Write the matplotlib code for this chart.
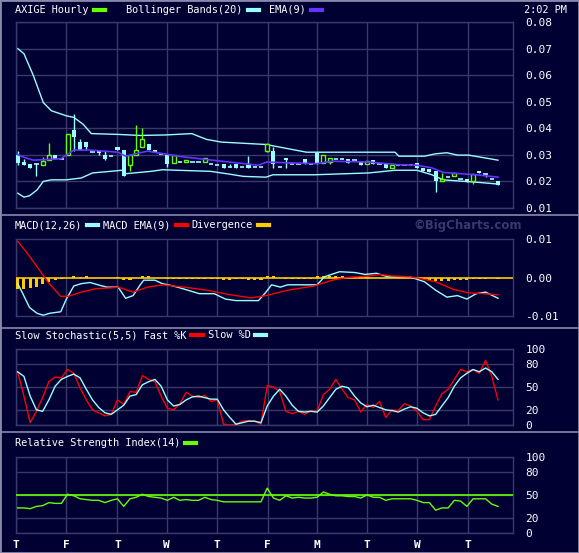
import matplotlib
matplotlib.use("Agg")
import matplotlib.pyplot as plt
from matplotlib.lines import Line2D
import numpy as np

BG = "#000033"
GRID = "#3a3a6a"
CYAN = "#99ffff"
GREEN = "#66ff00"
RED = "#ff0000"
ORANGE = "#ffcc00"
PURPLE = "#6633ff"

# ---- price data (hourly bars) ----
opens = [.030,.0272,.0266,.0266,.0263,.0281,.030,.0286,
         .030,.0392,.0349,.0349,.031,.0314,.030,.0295,
         .0330,.0319,.0262,.030,.0329,.0342,.032,.0305,
         .030,.0268,.0272,.0272,.0272,.0272,.0272,.0265,
         .026,.0267,.0255,.0266,.0253,.0261,.0253,.0253,
         .0314,.0313,.0255,.029,.0265,.0265,.0286,.0265,
         .0308,.027,.0272,.0283,.0283,.0286,.028,.0272,
         .0265,.0281,.0265,.0266,.0251,.0263,.0263,.0263,
         .027,.0251,.0248,.0238,.020,.0215,.0219,.021,
         .0211,.020,.0238,.0228,.021,.020]
closes = [.027,.0261,.0251,.0266,.0278,.030,.0286,.0286,
          .038,.0368,.032,.0328,.031,.0308,.0285,.0295,
          .0318,.0219,.0298,.0319,.0361,.0318,.0311,.0305,
          .0267,.030,.0272,.028,.0272,.0272,.0288,.0265,
          .026,.0251,.0255,.0251,.0253,.0251,.0253,.0253,
          .0342,.0267,.0255,.028,.0265,.0265,.0267,.0265,
          .0267,.030,.0288,.0283,.0283,.027,.028,.0261,
          .0278,.0265,.0265,.0251,.0263,.0263,.0263,.0263,
          .0251,.0238,.0235,.020,.0211,.0215,.0232,.021,
          .0198,.0229,.0232,.0228,.021,.0188]
highs = [.0314,.0285,.0266,.0268,.0291,.0343,.030,.0286,
         .038,.0455,.036,.0349,.031,.0314,.0315,.0295,
         .0330,.0319,.0298,.0413,.040,.0342,.032,.0305,
         .030,.030,.0272,.028,.0272,.0272,.0288,.0265,
         .026,.0267,.0265,.0266,.0253,.0295,.0253,.0253,
         .0345,.033,.0255,.029,.0265,.0265,.0286,.0265,
         .0312,.030,.0288,.0283,.029,.0286,.028,.0272,
         .0278,.0281,.0265,.0266,.0263,.0263,.0263,.0263,
         .027,.0251,.0248,.0238,.023,.0215,.0232,.021,
         .0211,.0229,.0238,.0228,.021,.020]
lows = [.0262,.0261,.0251,.0219,.0263,.0281,.0286,.0286,
        .030,.0315,.032,.032,.031,.030,.028,.0295,
        .0318,.0219,.024,.030,.0329,.0318,.0311,.0305,
        .0255,.0268,.0272,.0272,.0272,.0272,.0272,.0265,
        .026,.0251,.0255,.0251,.0253,.0251,.0253,.0253,
        .031,.025,.0255,.025,.0265,.0265,.0267,.0265,
        .0267,.027,.0265,.0283,.0283,.027,.028,.0261,
        .0265,.0265,.0265,.0251,.0251,.0263,.0263,.0263,
        .0251,.0238,.0235,.016,.020,.0215,.0219,.021,
        .0198,.019,.0232,.0215,.021,.0188]

boll_up_x = [0,1,2.5,4.1,5.4,7.8,9,10.5,11.8,16.1,19.6,23.8,27.9,30.3,32.7,39.8,46.3,60.5,61.1,65.2,67,68.8,70.5,72.3,77]
boll_up = [.070,.0681,.0599,.0497,.0466,.0447,.0441,.0415,.0380,.0377,.0373,.0375,.0380,.0358,.0348,.0339,.0310,.0310,.0295,.0295,.0304,.0308,.0299,.0299,.0280]
boll_lo_x = [0,1,1.9,3.1,4.1,5.4,7.8,10.2,12,14.9,16.7,17.3,21.4,23.2,25.6,30.9,33.8,36.2,39.8,40.9,47.5,56.3,60.5,64,66.4,68.2,71.7,74.1,77]
boll_lo = [.0156,.0141,.0146,.0168,.0200,.0206,.0206,.0213,.0232,.0238,.0242,.0229,.0238,.0244,.0242,.0238,.0228,.0219,.0216,.0225,.0225,.0232,.0242,.0242,.0225,.0206,.0200,.0196,.0190]
ema_x = [0,1,2.5,6.9,9,11.5,16.1,17.3,19.1,20.8,23.2,25.6,32.7,38.6,39.9,43.3,48,50.4,56.3,61.1,64,66.4,68.2,71.1,73.5,77]
ema = [.0301,.0291,.0280,.0285,.0318,.0318,.0310,.0295,.0305,.0314,.0305,.0295,.0276,.0261,.0273,.0270,.0267,.0276,.0273,.0263,.0261,.0251,.0234,.0229,.0225,.0216]

macd_x = [0,0.7,1.9,3.1,4.1,5.1,6.9,7.8,9,10.2,11.6,13.1,14.3,16.1,17.3,18.5,19.6,20.2,22,23.2,24.4,25.6,27.9,29.1,31.5,33.3,35,38.6,39.8,40.7,42.1,43.3,48,49.2,51.6,54,55.7,57.5,59.3,62.8,65.2,67,68.8,70.5,72,73.5,75,77]
macd = [-.0016,-.0038,-.0078,-.0093,-.0098,-.0093,-.0089,-.0056,-.0022,-.0016,-.0013,-.002,-.0025,-.0025,-.0054,-.0047,-.002,-.0007,-.0007,-.0016,-.002,-.0025,-.0036,-.0042,-.0042,-.0056,-.006,-.006,-.0038,-.0019,-.0025,-.0019,-.0019,.0002,.0015,.0013,.0008,.0011,.0002,.0002,-.0011,-.0033,-.0051,-.0047,-.0056,-.0042,-.0038,-.0054]
sig_x = [0,1.3,3.1,4.8,6.9,8.1,10.2,12.5,14.9,16.1,18.5,20.8,23.2,26.7,30.3,33.8,37.4,39.8,43.3,47.5,50.4,52.8,56.3,58.1,59.9,62.8,64.6,67,69.9,72.3,74.7,77]
sig = [.0094,.0068,.0028,-.0011,-.0049,-.0049,-.0038,-.0029,-.0027,-.0025,-.0038,-.0025,-.0019,-.0025,-.0033,-.0044,-.0053,-.0047,-.0033,-.0022,-.0007,0,.0004,.0008,.0004,.0002,-.0003,-.0011,-.0031,-.004,-.0042,-.0045]
diverg = [-.003,-.003,-.0028,-.0025,-.0018,-.0011,-.0007,-.0003,
          0,.0003,.0002,.0003,0,-.0001,-.0002,0,
          .0001,-.0007,-.0006,-.0002,.0003,.0003,-.0001,-.0002,
          -.0003,-.0005,-.0005,-.0004,-.0004,-.0004,-.0004,-.0005,
          -.0005,-.0006,-.0006,-.0005,-.0005,-.0006,-.0006,-.0006,
          .0004,.0003,-.0002,-.0003,-.0003,-.0004,-.0004,-.0004,
          .0003,.0005,.0004,.0003,.0003,.0002,.0002,.0001,
          .0001,0,0,0,0,0,0,-.0001,
          -.0003,-.0005,-.0007,-.0008,-.0008,-.0008,-.0007,-.0006,
          -.0006,-.0005,-.0004,-.0003,-.0002,-.0005]

stoch_k = [70,38,3,18,36,57,63,62,73,68,49,33,20,16,12,14,33,27,44,43,65,60,57,38,22,20,28,43,38,36,39,31,33,1,0,1,5,6,5,1,
           52,50,44,18,15,18,14,19,18,40,47,60,47,36,33,17,27,23,31,10,20,19,28,25,18,7,7,25,41,47,60,73,70,73,68,85,64,33]
stoch_d = [70,64,38,20,18,33,51,60,64,67,62,47,33,23,16,14,20,26,38,40,53,57,60,51,33,25,27,33,37,38,36,34,34,20,10,1,3,5,5,3,
           25,38,47,38,26,18,17,18,17,25,36,47,51,49,38,29,24,26,23,20,19,17,21,24,22,16,12,14,25,36,51,62,68,73,70,75,70,60]
rsi = [33,33,32,35,36,40,39,39,51,49,45,44,43,43,40,43,45,35,45,47,51,48,47,46,43,47,43,44,43,43,47,44,43,41,41,41,41,41,41,41,
       59,46,43,49,46,47,46,46,47,54,51,49,49,48,48,46,50,47,47,43,45,45,45,45,43,40,40,30,33,33,43,42,35,45,45,45,38,35]

day_pos = [-0.35, 7.8, 16, 23.9, 32, 40.1, 48, 56, 64, 72.2]
day_labels = ["T", "F", "T", "W", "T", "F", "M", "T", "W", "T"]
XMIN, XMAX = -0.35, 79.4

FONT = "DejaVu Sans Mono"
FS = 7.4
plt.rcParams["font.family"] = FONT

fig = plt.figure(figsize=(5.79, 5.53), dpi=100, facecolor=BG)
W, H = 579, 553
renderer = fig.canvas.get_renderer()

def mkax(top, bottom):
    ax = fig.add_axes([15.5 / W, 1 - bottom / H, (513 - 15.5) / W, (bottom - top) / H])
    ax.set_facecolor(BG)
    ax.set_xlim(XMIN, XMAX)
    for s in ax.spines.values():
        s.set_color(GRID)
        s.set_linewidth(1)
    ax.set_xticks(day_pos)
    ax.xaxis.grid(True, color=GRID, lw=1)
    ax.yaxis.tick_right()
    ax.tick_params(axis="y", length=0, pad=9, labelcolor="white", labelsize=8)
    ax.tick_params(axis="x", length=0, labelbottom=False)
    ax.set_axisbelow(True)
    return ax

x = np.arange(len(opens))

# Panel 1: price
ax1 = mkax(22, 208)
ax1.set_ylim(0.01, 0.08)
ax1.set_yticks(np.arange(0.01, 0.081, 0.01))
ax1.set_yticklabels([f"{v:.2f}" for v in np.arange(0.01, 0.081, 0.01)])
ax1.yaxis.grid(True, color=GRID, lw=1)
ax1.plot(boll_up_x, boll_up, color=CYAN, lw=1)
ax1.plot(boll_lo_x, boll_lo, color=CYAN, lw=1)
for i in range(len(x)):
    o, c, h, l = opens[i], closes[i], highs[i], lows[i]
    up = c > o
    col = GREEN if up else CYAN
    ax1.vlines(x[i], l, h, color=col, lw=1, zorder=3)
    if abs(c - o) < 1e-6:
        ax1.hlines(o, x[i] - 0.35, x[i] + 0.35, color=col, lw=1.2, zorder=3)
    elif up:
        ax1.bar(x[i], c - o, bottom=o, width=0.65, facecolor=BG, edgecolor=col, lw=1, zorder=4)
    else:
        ax1.bar(x[i], o - c, bottom=c, width=0.65, color=col, lw=0, zorder=4)
ax1.plot(ema_x, ema, color=PURPLE, lw=1.2, zorder=5)

# Panel 2: MACD
ax2 = mkax(239, 316)
ax2.set_ylim(-0.01, 0.01)
ax2.set_yticks([-0.01, 0, 0.01])
ax2.set_yticklabels(["-0.01", "0.00", "0.01"])
ax2.bar(x, diverg, width=0.5, color=ORANGE, zorder=3)
ax2.axhline(0, color=ORANGE, lw=1.2, zorder=3)
ax2.plot(macd_x, macd, color=CYAN, lw=1, zorder=4)
ax2.plot(sig_x, sig, color=RED, lw=1, zorder=4)

# Panel 3: Stochastic
ax3 = mkax(349, 425)
ax3.set_ylim(0, 100)
ax3.set_yticks([0, 20, 50, 80, 100])
ax3.yaxis.grid(True, color=GRID, lw=1)
ax3.plot(x, stoch_k, color=RED, lw=1, zorder=3)
ax3.plot(x, stoch_d, color=CYAN, lw=1, zorder=4)

# Panel 4: RSI
ax4 = mkax(457, 533)
ax4.set_ylim(0, 100)
ax4.set_yticks([0, 20, 50, 80, 100])
ax4.yaxis.grid(True, color=GRID, lw=1)
ax4.axhline(50, color=GREEN, lw=1.2, zorder=3)
ax4.plot(x, rsi, color=GREEN, lw=1, zorder=4)
ax4.tick_params(axis="x", labelbottom=True, labelcolor="white", labelsize=8, pad=5)
ax4.set_xticklabels(day_labels, fontweight="bold")

# legends / headers
def legend(items, y):
    xpos = 15
    for label, col, gap in items:
        t = fig.text(xpos / W, 1 - y / H, label, color="white", fontsize=FS, va="center", ha="left")
        w = t.get_window_extent(renderer).width
        fig.add_artist(Line2D([(xpos + w + 5) / W, (xpos + w + 16) / W], [1 - y / H] * 2, color=col, lw=3))
        xpos += w + 16 + gap

legend([("AXIGE Hourly", GREEN, 22), ("Bollinger Bands(20)", CYAN, 10), ("EMA(9)", PURPLE, 0)], 10)
fig.text(545 / W, 1 - 10 / H, "2:02 PM", color="white", fontsize=FS, va="center", ha="center")
legend([("MACD(12,26)", CYAN, 5), ("MACD EMA(9)", RED, 5), ("Divergence", ORANGE, 0)], 225)
fig.text(468 / W, 1 - 225 / H, "©BigCharts.com", color="#3a3a6a", fontsize=8.5, fontweight="bold",
         va="center", ha="center", family="DejaVu Sans")
legend([("Slow Stochastic(5,5) Fast %K", RED, 5), ("Slow %D", CYAN, 0)], 335)
legend([("Relative Strength Index(14)", GREEN, 0)], 443)

# panel separators / frame
for yy in [215, 328, 432]:
    fig.add_artist(Line2D([0, 1], [1 - yy / H] * 2, color="#8888aa", lw=1.2))
fig.add_artist(plt.Rectangle((0, 0), 1, 1, transform=fig.transFigure, fill=False, edgecolor="#8888aa", lw=2))

fig.savefig("out.png", dpi=100, facecolor=BG)
